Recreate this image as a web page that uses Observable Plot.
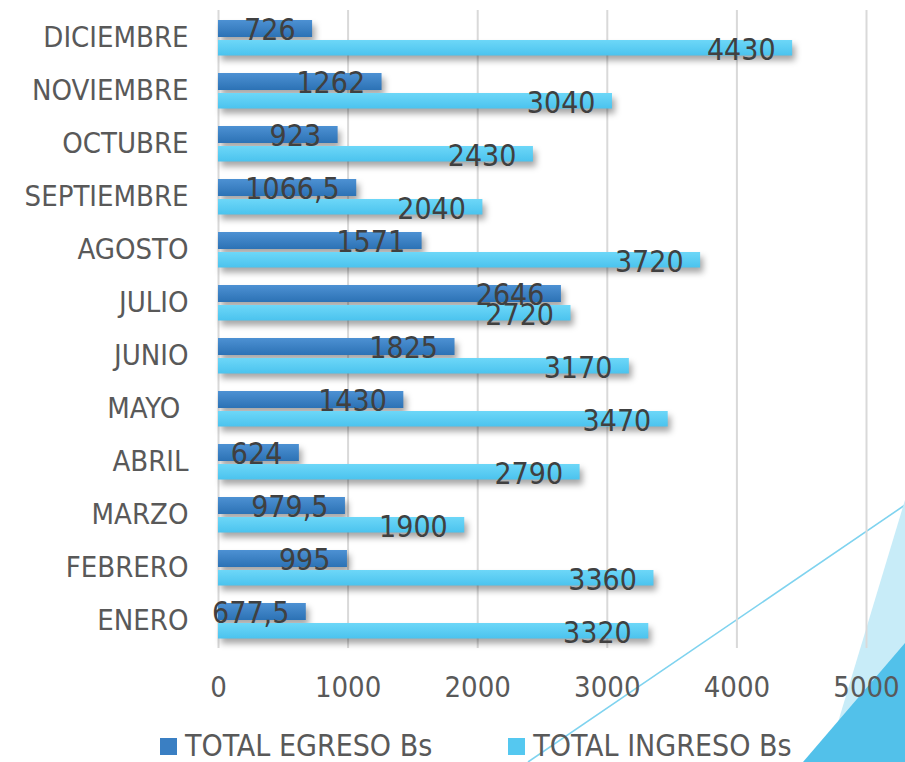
<!DOCTYPE html>
<html><head><meta charset="utf-8">
<script src="https://cdn.jsdelivr.net/npm/d3@7"></script>
<script src="https://cdn.jsdelivr.net/npm/@observablehq/plot@0.6"></script>
<style>
body{margin:0;background:#fff;width:905px;height:762px;overflow:hidden;position:relative;font-family:"DejaVu Sans Condensed","DejaVu Sans",sans-serif;font-stretch:condensed}
#deco{position:absolute;left:0;top:0}
#chart{position:absolute;left:0;top:0}
#chart svg{font-stretch:condensed}
#chart svg g[aria-label^="y-axis"] text{font-size:29px;fill:#595959}
#chart svg g[aria-label^="x-axis"] text{font-size:29px;fill:#595959}
#legend{position:absolute;top:732px;left:160px;display:flex;align-items:center;gap:76px;font-size:30px;line-height:28px;color:#595959;white-space:nowrap}
#legend .item{display:flex;align-items:center}
#legend .sw{width:17px;height:17px;margin-right:8px}
</style></head><body>
<svg id="deco" width="905" height="762">
  <line x1="905" y1="505" x2="528" y2="762" stroke="#7fd3ef" stroke-width="1.6"/>
  <polygon points="905,500 826,762 905,762" fill="#c8ecf8"/>
  <polygon points="905,643 803,762 905,762" fill="#52c1ea"/>
</svg>
<div id="chart"></div>
<div id="legend"></div>
<script>
const months = ["ENERO","FEBRERO","MARZO","ABRIL","MAYO\u00A0","JUNIO","JULIO","AGOSTO","SEPTIEMBRE","OCTUBRE","NOVIEMBRE","DICIEMBRE"];
const egreso = [677.5, 995, 979.5, 624, 1430, 1825, 2646, 1571, 1066.5, 923, 1262, 726];
const ingreso = [3320, 3360, 1900, 2790, 3470, 3170, 2720, 3720, 2040, 2430, 3040, 4430];
const xTicks = [0, 1000, 2000, 3000, 4000, 5000];
const seriesNames = ["TOTAL EGRESO Bs", "TOTAL INGRESO Bs"];
const seriesColors = ["#3a7fc3", "#55c8f0"];

const rows = months.map((m, i) => ({month: m, egreso: egreso[i], ingreso: ingreso[i]}));
const fmt = v => String(v).replace(".", ",");
const FONT = "DejaVu Sans Condensed, DejaVu Sans, sans-serif";

const plot = Plot.plot({
  width: 905, height: 715,
  marginTop: 10, marginBottom: 67, marginLeft: 218, marginRight: 39,
  style: {fontFamily: FONT, background: "transparent", overflow: "visible"},
  x: {domain: [0, 5000], ticks: xTicks, tickSize: 0, tickPadding: 28, label: null, tickFormat: d => String(d)},
  y: {domain: months.slice().reverse(), padding: 0, tickSize: 0, tickPadding: 30, label: null},
  marks: [
    Plot.ruleX(xTicks, {x: d => d, stroke: "#d9d9d9", strokeWidth: 2}),
    Plot.barX(rows, {y: "month", x: "egreso", fill: "url(#gradE)", insetTop: 9, insetBottom: 27}),
    Plot.barX(rows, {y: "month", x: "ingreso", fill: "url(#gradI)", insetTop: 29, insetBottom: 8.5}),
    Plot.text(rows, {y: "month", x: "egreso", text: d => fmt(d.egreso), dx: -17, dy: -8, textAnchor: "end", fill: "#404040", fontSize: 30}),
    Plot.text(rows, {y: "month", x: "ingreso", text: d => fmt(d.ingreso), dx: -17, dy: 12, textAnchor: "end", fill: "#404040", fontSize: 30})
  ]
});

const svg = d3.select(plot);
const defs = svg.insert("defs", ":first-child");
const gE = defs.append("linearGradient").attr("id", "gradE").attr("x1", 0).attr("y1", 0).attr("x2", 0).attr("y2", 1);
gE.append("stop").attr("offset", "0%").attr("stop-color", "#4d91d3");
gE.append("stop").attr("offset", "100%").attr("stop-color", "#2c72b5");
const gI = defs.append("linearGradient").attr("id", "gradI").attr("x1", 0).attr("y1", 0).attr("x2", 0).attr("y2", 1);
gI.append("stop").attr("offset", "0%").attr("stop-color", "#6dd7f8");
gI.append("stop").attr("offset", "100%").attr("stop-color", "#4bc3ee");
svg.selectAll('g[aria-label="bar"]').style("filter", "drop-shadow(3px 5px 3px rgba(0,0,0,0.35))");

document.getElementById("chart").appendChild(plot);

const legend = d3.select("#legend");
seriesNames.forEach((name, i) => {
  const it = legend.append("div").attr("class", "item");
  it.append("div").attr("class", "sw").style("background", seriesColors[i]);
  it.append("span").text(name);
});
</script>
</body></html>
